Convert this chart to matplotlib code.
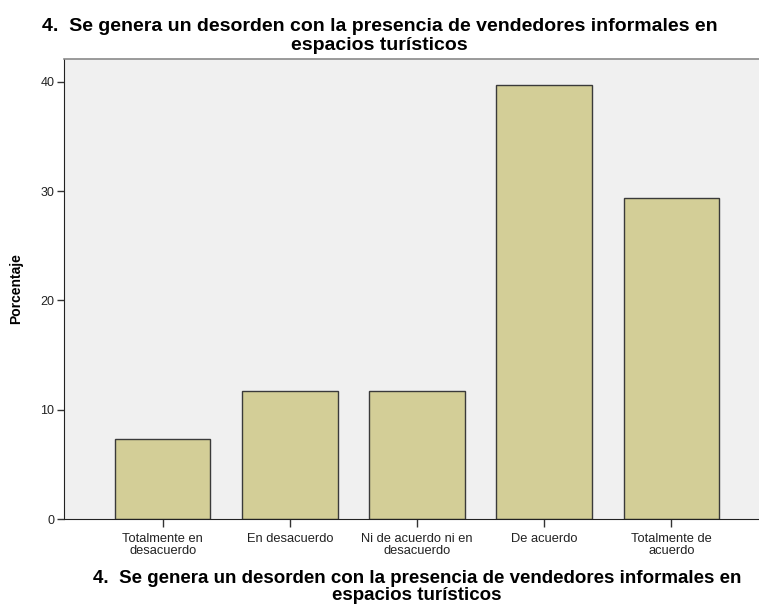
import matplotlib
matplotlib.use("Agg")
import matplotlib.pyplot as plt

plt.rcParams['font.family'] = ['Liberation Sans', 'DejaVu Sans']

# respuestas (porcentaje)
categorias = ['Totalmente en\ndesacuerdo', 'En desacuerdo', 'Ni de acuerdo ni en\ndesacuerdo',
              'De acuerdo', 'Totalmente de\nacuerdo']
porcentaje = [7.35, 11.76, 11.76, 39.71, 29.41]
yticks = [0, 10, 20, 30, 40]
titulo = '4.  Se genera un desorden con la presencia de vendedores informales en\nespacios turísticos'

fig = plt.figure(figsize=(7.59, 6.05), dpi=100)
ax = fig.add_axes([64 / 759, 86 / 605, 706 / 759, 460 / 605])
ax.set_facecolor('#f0f0f0')

x = list(range(len(categorias)))
ax.bar(x, porcentaje, width=0.75, color='#d3ce97', edgecolor='#3a3a3a', linewidth=1, zorder=2)

ax.set_xlim(-0.776, len(categorias) - 1 + 0.776)
ax.set_ylim(0, 42.1)
ax.set_xticks(x)
ax.set_xticklabels(categorias, fontsize=9.3, color='#222222', linespacing=1.0)
ax.set_yticks(yticks)
ax.set_yticklabels([str(v) for v in yticks], fontsize=9, color='#222222')
ax.tick_params(axis='x', length=6, width=1, color='#333333', pad=4)
ax.tick_params(axis='y', length=5, width=1, color='#333333', pad=2)

ax.spines['left'].set_color('#222222')
ax.spines['bottom'].set_color('#222222')
ax.spines['top'].set_color('#8a8a8a')
ax.spines['top'].set_linewidth(1.2)
ax.spines['right'].set_visible(False)

ax.set_ylabel('Porcentaje', fontsize=10, fontweight='bold', labelpad=12)

# titulo arriba y etiqueta del eje abajo
fig.text(0.5, 1 - 50 / 605, titulo, fontsize=14, fontweight='bold', ha='center', va='baseline',
         linespacing=1.15)
fig.text(417 / 759, 5 / 605, titulo, fontsize=13.5, fontweight='bold', ha='center', va='baseline',
         linespacing=1.0)

plt.savefig('out.png', dpi=100)
